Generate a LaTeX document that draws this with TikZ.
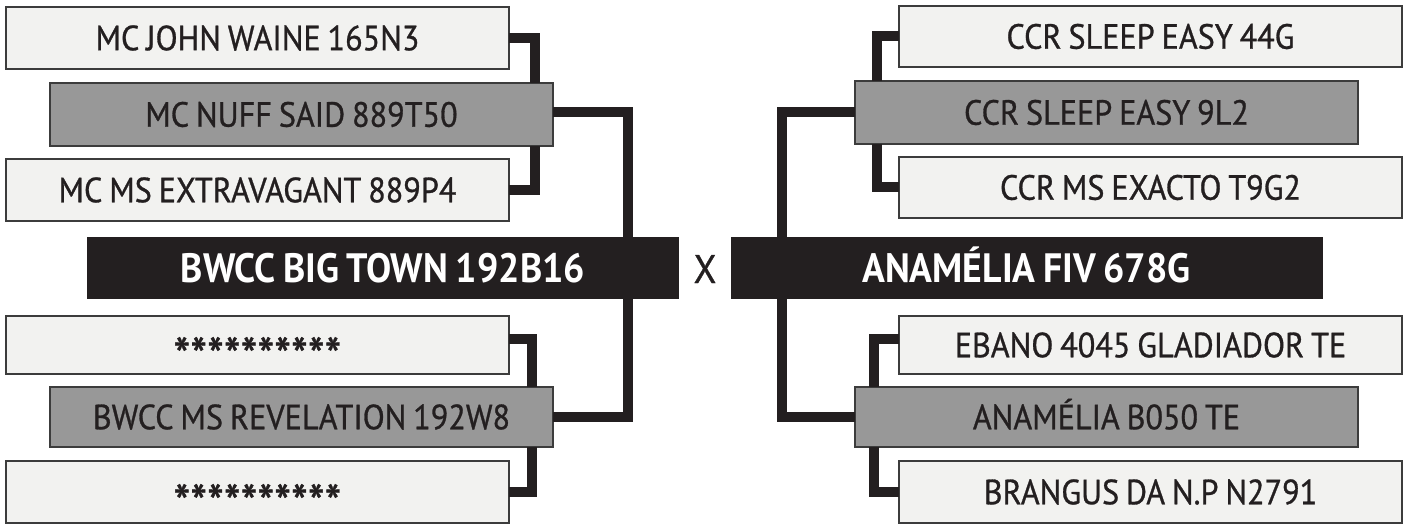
\documentclass[tikz,border=0pt]{standalone}
\usepackage{fontspec}
\setmainfont{PT Sans}[FakeStretch=0.92, WordSpace=0.8, UprightFeatures={FakeBold=0.8}]
\usetikzlibrary{calc}

\definecolor{ink}{HTML}{231F20}
\definecolor{paper}{HTML}{F2F2F0}
\definecolor{mid}{HTML}{989898}
\definecolor{edge}{HTML}{3C3C3C}

\tikzset{
	entry/.style={draw=edge, line width=1.2pt, fill=paper, text=ink, inner sep=0pt, outer sep=0pt,
		minimum width=503pt, minimum height=62pt, text height=24.5pt, text depth=0pt,
		font=\fontsize{35}{41}\selectfont},
	parent/.style={entry, fill=mid},
	champ/.style={fill=ink, text=white, inner sep=0pt, outer sep=0pt,
		minimum width=592pt, minimum height=62pt, text height=28.7pt, text depth=0pt,
		font=\fontsize{41}{47}\selectfont\bfseries},
	wire/.style={draw=ink, line width=10pt},
}
\def\stars{\raisebox{-17pt}[0pt][0pt]{\fontsize{52}{58}\selectfont **********}}

\begin{document}
\begin{tikzpicture}[x=1pt, y=-1pt]
			%%%%% START %%%%%
			\useasboundingbox[fill=white] (0, 0) rectangle (1409, 524);
			
			% left side
			\node[entry, minimum height=62pt] (L1) at (257.5, 38) {MC JOHN WAINE 165N3};
			\node[parent, minimum height=63pt] (L2) at (301.5, 114.5) {MC NUFF SAID 889T50};
			\node[entry, minimum height=62pt] (L3) at (257.5, 190) {MC MS EXTRAVAGANT 889P4};
			\node[champ] (LB) at (383, 268) {BWCC BIG TOWN 192B16};
			\node[entry, minimum height=58pt] (L4) at (257.5, 345) {\stars};
			\node[parent, minimum height=60pt] (L5) at (301.5, 417) {BWCC MS REVELATION 192W8};
			\node[entry, minimum height=62pt] (L6) at (257.5, 492) {\stars};
			
			\node[text=ink, font=\fontsize{40}{46}\selectfont, text height=28pt, text depth=0pt, inner sep=0pt] (vs) at (705, 269) {X};
			
			% right side
			\node[entry, minimum height=61pt] (R1) at (1150.5, 36.5) {CCR SLEEP EASY 44G};
			\node[parent, minimum height=63pt] (R2) at (1106.5, 112.5) {CCR SLEEP EASY 9L2};
			\node[entry, minimum height=61pt] (R3) at (1150.5, 187.5) {CCR MS EXACTO T9G2};
			\node[champ] (RB) at (1026.5, 268) {ANAMÉLIA FIV 678G};
			\node[entry, minimum height=58pt] (R4) at (1150.5, 345) {EBANO 4045 GLADIADOR TE};
			\node[parent, minimum height=60pt] (R5) at (1106.5, 417) {ANAMÉLIA B050 TE};
			\node[entry, minimum height=62pt] (R6) at (1150.5, 492) {BRANGUS DA N.P N2791};
			
			% spines
			\coordinate (lsa) at (535, 0);
			\coordinate (lsb) at (532, 0);
			\coordinate (lm) at (628, 0);
			\coordinate (rm) at (782, 0);
			\coordinate (rsa) at (877, 0);
			\coordinate (rsb) at (874, 0);
			
			\draw[wire] (L1.east) -| (lsa |- L2.north);
			\draw[wire] (L3.east) -| (lsa |- L2.south);
			\draw[wire] ([yshift=2pt]L2.east) -| (lm |- LB.north);
			\draw[wire] ([yshift=6pt]L4.east) -| (lsb |- L5.north);
			\draw[wire] (L6.east) -| (lsb |- L5.south);
			\draw[wire] (L5.east) -| (lm |- LB.south);
			
			\draw[wire] (R1.west) -| (rsa |- R2.north);
			\draw[wire] (R3.west) -| (rsa |- R2.south);
			\draw[wire] (R2.west) -| (rm |- RB.north);
			\draw[wire] ([yshift=6pt]R4.west) -| (rsb |- R5.north);
			\draw[wire] (R6.west) -| (rsb |- R5.south);
			\draw[wire] (R5.west) -| (rm |- RB.south);
			%%%%% END %%%%%
\end{tikzpicture}
\end{document}
